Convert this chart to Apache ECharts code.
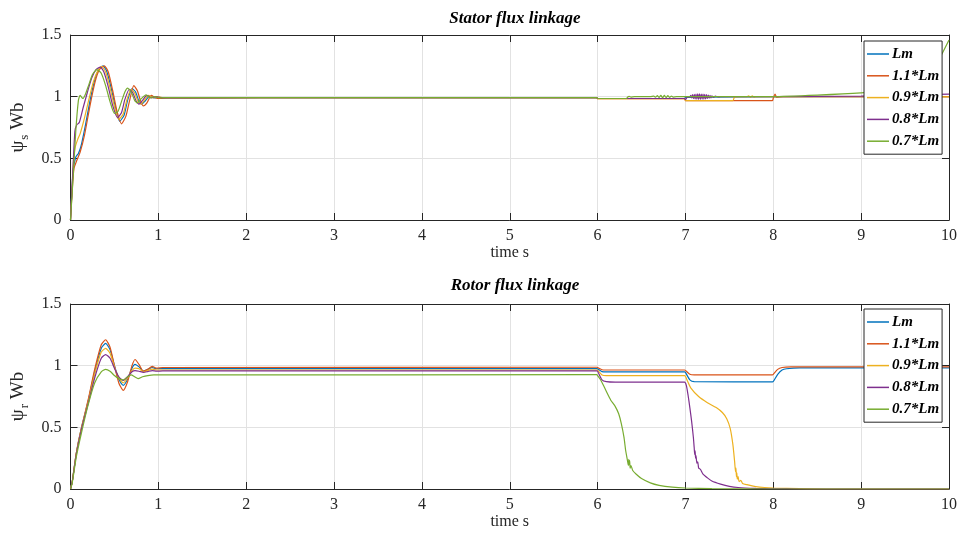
<!DOCTYPE html>
<html>
<head>
<meta charset="utf-8">
<script src="https://cdn.jsdelivr.net/npm/echarts@6/dist/echarts.min.js"></script>
<style>
  html, body { margin: 0; padding: 0; background: #ffffff; }
  #chart { width: 960px; height: 540px; }
</style>
</head>
<body>
<div id="chart"></div>
<script>
// Inductance cases and their line colours
const caseNames = ['Lm', '1.1*Lm', '0.9*Lm', '0.8*Lm', '0.7*Lm'];
const caseColors = ['#0072BD', '#D95319', '#EDB120', '#7E2F8E', '#77AC30'];

const titles = ['Stator flux linkage', 'Rotor flux linkage'];
const xName = 'time s';
const ySubs = ['s', 'r'];

// Stator flux linkage, [time (s), psi_s (Wb)]
const statorLm = [
  [0,0],[0.03,0.40],[0.06,0.51],[0.09,0.54],[0.12,0.60],[0.17,0.77],[0.22,0.96],[0.27,1.12],[0.32,1.22],[0.37,1.25],
  [0.41,1.21],[0.46,1.08],[0.51,0.92],[0.56,0.80],[0.61,0.85],[0.65,0.97],[0.70,1.065],[0.74,1.04],[0.78,0.96],[0.81,0.94],
  [0.85,0.965],[0.90,1.005],[0.95,0.99],[1.0,0.995],[1.08,0.99],[1.3,0.99],[3,0.993],[5.99,0.993],[6.0,0.985],[6.99,0.985],
  [7.0,0.995],[8,1.0],[10,1.0]
];
const statorLm11 = [
  [0,0],[0.02,0.25],[0.04,0.42],[0.07,0.48],[0.11,0.55],[0.16,0.69],[0.22,0.92],[0.28,1.12],[0.33,1.22],[0.385,1.25],
  [0.43,1.2],[0.48,1.05],[0.53,0.88],[0.58,0.78],[0.63,0.84],[0.67,0.96],[0.72,1.09],[0.76,1.05],[0.80,0.96],[0.83,0.925],
  [0.87,0.95],[0.92,1.01],[0.97,0.99],[1.02,0.985],[1.1,0.99],[1.3,0.99],[3,0.993],[5.99,0.993],[6.0,0.983],[6.99,0.983],
  [7.0,0.968],[7.99,0.968],[8.0,0.99],[8.02,1.02],[8.04,0.995],[8.1,1.0],[10,1.0]
];
const statorLm09 = [
  [0,0],[0.03,0.42],[0.05,0.58],[0.08,0.65],[0.11,0.70],[0.16,0.83],[0.21,0.98],[0.26,1.12],[0.31,1.21],[0.355,1.245],
  [0.40,1.2],[0.45,1.07],[0.50,0.92],[0.55,0.815],[0.60,0.86],[0.64,0.97],[0.69,1.06],[0.73,1.03],[0.77,0.96],[0.80,0.94],
  [0.84,0.97],[0.89,1.01],[0.94,0.99],[0.99,1.0],[1.07,0.99],[1.3,0.99],[3,0.993],[5.99,0.993],[6.0,0.984],[6.99,0.984],
  [7.0,0.968],[7.54,0.968],[7.56,0.998],[7.7,1.0],[7.72,1.006],[7.74,0.995],[7.76,1.006],[7.78,0.996],[7.8,1.0],[10,0.998]
];
const statorLm08 = [
  [0,0],[0.03,0.45],[0.05,0.72],[0.07,0.77],[0.10,0.79],[0.14,0.90],[0.19,1.03],[0.24,1.15],[0.29,1.22],[0.34,1.24],
  [0.38,1.2],[0.43,1.08],[0.48,0.93],[0.535,0.83],[0.58,0.87],[0.62,0.98],[0.67,1.06],[0.71,1.03],[0.75,0.96],[0.78,0.94],
  [0.82,0.97],[0.87,1.01],[0.92,0.99],[0.97,1.0],[1.05,0.99],[1.3,0.99],[3,0.993],[5.99,0.993],[6.0,0.985],[6.99,0.985],
  [7.0,0.975],[7.02,0.995],[7.05,1.0],[7.06,1.01],[7.07,0.99],[7.08,1.016],[7.09,0.984],[7.10,1.018],[7.11,0.981],[7.12,1.02],
  [7.13,0.979],[7.14,1.022],[7.15,0.978],[7.16,1.022],[7.17,0.978],[7.18,1.021],[7.19,0.979],[7.20,1.02],[7.21,0.98],[7.22,1.018],
  [7.23,0.982],[7.24,1.016],[7.25,0.985],[7.26,1.013],[7.27,0.988],[7.28,1.01],[7.29,0.991],[7.30,1.007],[7.32,0.994],[7.34,1.004],
  [7.37,0.998],[7.4,1.0],[8,1.0],[9,1.005],[9.5,1.013],[10,1.02]
];
const statorLm07 = [
  [0,0],[0.03,0.35],[0.06,0.72],[0.09,0.97],[0.11,1.01],[0.14,0.985],[0.17,1.02],[0.21,1.10],[0.25,1.18],[0.30,1.22],
  [0.35,1.19],[0.40,1.09],[0.45,0.96],[0.50,0.865],[0.54,0.88],[0.58,0.96],[0.62,1.04],[0.65,1.07],[0.69,1.04],[0.73,0.97],
  [0.76,0.95],[0.80,0.98],[0.86,1.015],[0.91,0.99],[0.96,1.0],[1.02,0.99],[1.1,0.993],[3,0.993],[5.99,0.993],[6.0,0.985],
  [6.33,0.985],[6.34,0.996],[6.36,1.002],[6.38,0.997],[6.42,1.0],[6.6,1.0],[6.64,1.004],[6.66,0.996],[6.68,1.008],[6.70,0.993],
  [6.72,1.01],[6.74,0.991],[6.76,1.01],[6.78,0.992],[6.80,1.008],[6.82,0.994],[6.84,1.005],[6.86,0.997],[6.9,1.0],[8,1.0],
  [8.5,1.012],[9,1.03],[9.3,1.05],[9.5,1.075],[9.7,1.14],[9.8,1.2],[9.9,1.32],[10,1.46]
];

// Rotor flux linkage, [time (s), psi_r (Wb)]
const rotorLm = [
  [0,0],[0.02,0.06],[0.066,0.29],[0.123,0.49],[0.2,0.71],[0.275,0.95],[0.35,1.14],[0.40,1.18],[0.45,1.13],[0.50,1.0],
  [0.55,0.89],[0.60,0.84],[0.65,0.89],[0.70,0.98],[0.735,1.01],[0.78,0.99],[0.83,0.955],[0.88,0.97],[0.93,0.985],[0.98,0.975],
  [1.05,0.976],[5.99,0.976],[6.0,0.974],[6.05,0.952],[6.1,0.949],[6.99,0.949],[7.0,0.945],[7.05,0.885],[7.1,0.87],[7.99,0.868],
  [8.0,0.872],[8.05,0.93],[8.1,0.965],[8.15,0.975],[8.3,0.982],[10,0.982]
];
const rotorLm11 = [
  [0,0],[0.02,0.06],[0.066,0.29],[0.123,0.49],[0.2,0.72],[0.275,0.97],[0.35,1.17],[0.40,1.21],[0.45,1.15],[0.50,1.0],
  [0.55,0.86],[0.60,0.80],[0.65,0.87],[0.70,1.0],[0.735,1.05],[0.78,1.01],[0.83,0.955],[0.88,0.97],[0.93,0.995],[0.98,0.98],
  [1.05,0.985],[5.99,0.987],[6.0,0.985],[6.05,0.967],[6.1,0.965],[6.99,0.965],[7.0,0.962],[7.05,0.93],[7.1,0.925],[7.99,0.925],
  [8.0,0.93],[8.05,0.97],[8.1,0.985],[8.2,0.99],[10,0.99]
];
const rotorLm09 = [
  [0,0],[0.02,0.06],[0.066,0.29],[0.123,0.49],[0.2,0.70],[0.275,0.93],[0.35,1.11],[0.40,1.14],[0.45,1.10],[0.50,0.99],
  [0.55,0.90],[0.60,0.86],[0.65,0.90],[0.70,0.96],[0.735,0.98],[0.78,0.975],[0.83,0.95],[0.88,0.96],[0.93,0.972],[0.98,0.965],
  [1.05,0.965],[5.99,0.965],[6.0,0.963],[6.05,0.925],[6.1,0.919],[6.99,0.919],[7.02,0.88],[7.06,0.82],[7.15,0.75],[7.25,0.70],
  [7.35,0.66],[7.42,0.62],[7.47,0.57],[7.51,0.49],[7.54,0.36],[7.56,0.22],[7.57,0.14],[7.575,0.17],[7.58,0.10],[7.585,0.13],
  [7.59,0.08],[7.6,0.10],[7.61,0.06],[7.63,0.07],[7.65,0.045],[7.7,0.035],[7.8,0.02],[7.9,0.012],[8.0,0.008],[8.3,0.003],
  [8.6,0],[10,0]
];
const rotorLm08 = [
  [0,0],[0.02,0.06],[0.066,0.28],[0.123,0.48],[0.2,0.69],[0.275,0.90],[0.35,1.06],[0.40,1.09],[0.45,1.06],[0.50,0.98],
  [0.55,0.91],[0.60,0.88],[0.65,0.91],[0.70,0.95],[0.735,0.96],[0.78,0.955],[0.83,0.945],[0.88,0.952],[0.93,0.96],[0.98,0.956],
  [1.05,0.957],[5.99,0.957],[6.0,0.955],[6.05,0.885],[6.1,0.87],[6.2,0.866],[6.99,0.866],[7.01,0.84],[7.03,0.76],[7.05,0.66],
  [7.07,0.55],[7.09,0.42],[7.10,0.33],[7.105,0.28],[7.11,0.31],[7.115,0.25],[7.12,0.27],[7.13,0.21],[7.14,0.22],[7.15,0.17],
  [7.17,0.16],[7.2,0.12],[7.25,0.09],[7.3,0.065],[7.4,0.04],[7.5,0.022],[7.6,0.012],[7.8,0.005],[8,0.002],[8.3,0],[10,0]
];
const rotorLm07 = [
  [0,0],[0.02,0.05],[0.066,0.26],[0.123,0.45],[0.2,0.68],[0.275,0.86],[0.35,0.95],[0.40,0.97],[0.45,0.955],[0.50,0.92],
  [0.55,0.895],[0.60,0.884],[0.65,0.91],[0.69,0.925],[0.73,0.91],[0.77,0.895],[0.82,0.91],[0.88,0.92],[0.95,0.925],[1.05,0.925],
  [5.99,0.927],[6.0,0.92],[6.03,0.89],[6.06,0.85],[6.1,0.79],[6.15,0.72],[6.2,0.67],[6.24,0.61],[6.27,0.53],[6.3,0.42],
  [6.32,0.31],[6.34,0.23],[6.35,0.19],[6.355,0.24],[6.36,0.2],[6.365,0.23],[6.37,0.17],[6.38,0.19],[6.4,0.15],[6.44,0.12],
  [6.5,0.085],[6.6,0.05],[6.7,0.03],[6.85,0.015],[7,0.008],[7.3,0.003],[8,0],[10,0]
];

const statorSets = [statorLm, statorLm11, statorLm09, statorLm08, statorLm07];
const rotorSets = [rotorLm, rotorLm11, rotorLm09, rotorLm08, rotorLm07];

const serif = '"Liberation Serif", "DejaVu Serif", serif';
const ink = '#262626';
const gridColor = '#e2e2e2';

const panelTops = [35, 304];
const panelHeight = 185;

function xAxes(gridIndex) {
  const common = {
    gridIndex, type: 'value', min: 0, max: 10, interval: 1,
    axisLine: { show: true, onZero: false, lineStyle: { color: ink, width: 1 } },
    axisTick: { show: true, inside: true, length: 7, lineStyle: { color: ink } },
    splitLine: { show: false }
  };
  return [
    Object.assign({}, common, {
      position: 'bottom',
      axisLabel: { fontFamily: serif, fontSize: 16, color: ink, margin: 8 },
      splitLine: { show: true, lineStyle: { color: gridColor, width: 1 } },
      name: xName, nameLocation: 'middle', nameGap: 24,
      nameTextStyle: { fontFamily: serif, fontSize: 16, color: ink }
    }),
    Object.assign({}, common, { position: 'top', axisLabel: { show: false } })
  ];
}

function yAxes(gridIndex, sub) {
  const common = {
    gridIndex, type: 'value', min: 0, max: 1.5, interval: 0.5,
    axisLine: { show: true, onZero: false, lineStyle: { color: ink, width: 1 } },
    axisTick: { show: true, inside: true, length: 7, lineStyle: { color: ink } },
    splitLine: { show: false }
  };
  return [
    Object.assign({}, common, {
      position: 'left',
      axisLabel: { fontFamily: serif, fontSize: 16, color: ink, margin: 9 },
      splitLine: { show: true, lineStyle: { color: gridColor, width: 1 } },
      name: '{m|ψ}{s|' + sub + '}{m| Wb}', nameLocation: 'middle', nameGap: 36, nameRotate: 90,
      nameTextStyle: {
        rich: {
          m: { fontFamily: serif, fontSize: 19, color: ink },
          s: { fontFamily: serif, fontSize: 13, color: ink, padding: [12, 0, 0, 1] }
        }
      }
    }),
    Object.assign({}, common, { position: 'right', axisLabel: { show: false } })
  ];
}

const series = [];
[statorSets, rotorSets].forEach((sets, p) => {
  sets.forEach((data, i) => {
    series.push({
      name: caseNames[i], type: 'line', data,
      xAxisIndex: p * 2, yAxisIndex: p * 2,
      symbol: 'none', smooth: 0.2, animation: false,
      lineStyle: { color: caseColors[i], width: 1.2 },
      itemStyle: { color: caseColors[i] }
    });
  });
});

function legendAt(top) {
  return {
    show: true, orient: 'vertical', left: 864, top,
    data: caseNames,
    icon: 'rect',
    backgroundColor: '#ffffff', borderColor: ink, borderWidth: 1, borderRadius: 0,
    padding: [5, 3, 5, 3], itemWidth: 22, itemHeight: 1.5, itemGap: 5.8,
    textStyle: { fontFamily: serif, fontSize: 15, fontStyle: 'italic', fontWeight: 'bold', color: '#000', lineHeight: 16, padding: [0, 0, 0, -2] },
    selectedMode: false
  };
}

const option = {
  backgroundColor: '#ffffff',
  animation: false,
  title: titles.map((t, i) => ({
    text: t, left: 510, top: panelTops[i] - 30 - i * 2, textAlign: 'center',
    textStyle: { fontFamily: serif, fontSize: 17, fontStyle: 'italic', fontWeight: 'bold', color: '#000' }
  })),
  legend: [legendAt(41), legendAt(309)],
  grid: panelTops.map(top => ({ left: 70.5, right: 10.5, top, height: panelHeight, containLabel: false })),
  xAxis: [...xAxes(0), ...xAxes(1)],
  yAxis: [...yAxes(0, ySubs[0]), ...yAxes(1, ySubs[1])],
  series
};

const chart = echarts.init(document.getElementById('chart'), null, { renderer: 'canvas' });
chart.setOption(option);
</script>
</body>
</html>
